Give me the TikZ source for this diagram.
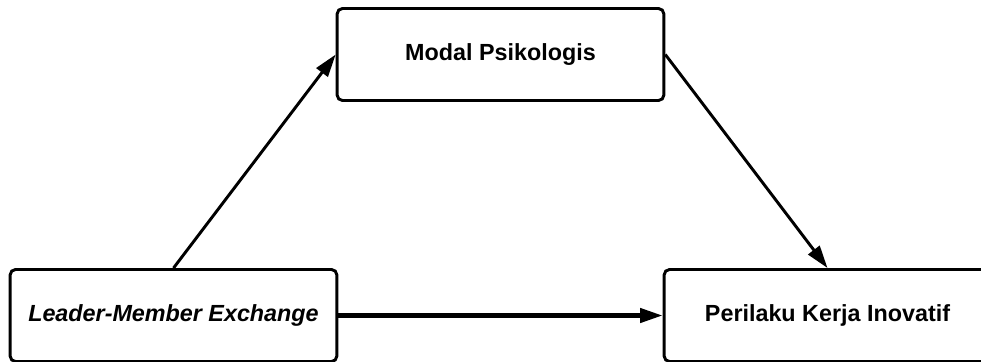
\documentclass[tikz,border=0pt]{standalone}
\usepackage{fontspec}
\setmainfont{Liberation Sans}
\usepackage{tikz}
\usetikzlibrary{arrows.meta, positioning}

\begin{document}
\begin{tikzpicture}[
    x=0.75pt, y=-0.75pt,
    box/.style={rectangle, rounded corners=4pt, draw=black, fill=white, line width=2.2pt, minimum width=245pt, minimum height=69pt, align=center, font=\fontsize{17.5}{21}\selectfont\bfseries},
    arrow/.style={-{Triangle[length=17pt, width=10.5pt]}, line width=2.2pt, black}
]
\clip (0,0) rectangle (981,361);
\fill[white] (0,0) rectangle (981,361);

\node[box] (modal) at (500.5,54.5) {Modal Psikologis};
\node[box] (lmx) at (173.5,315.5) {\itshape Leader-Member Exchange};
\node[box] (pki) at (827.5,315.5) {Perilaku Kerja Inovatif};

\draw[arrow] (lmx.north) -- (modal.west);
\draw[arrow] (modal.east) -- (pki.north);
\draw[arrow, line width=3.3pt] (lmx.east) -- (pki.west);

\end{tikzpicture}
\end{document}
